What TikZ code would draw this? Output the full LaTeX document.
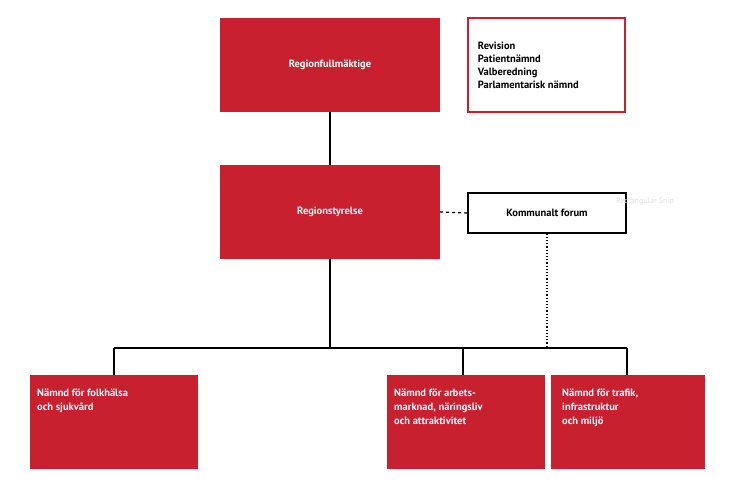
\documentclass[tikz,border=0pt]{standalone}
\usepackage{fontspec}
\setmainfont{PT Sans}
\definecolor{regred}{HTML}{C8202F}

\begin{document}
\begin{tikzpicture}[x=1pt,y=-1pt,
    redbox/.style={fill=regred,text=white,font=\bfseries\fontsize{10.5}{13}\selectfont,inner sep=0pt},
    linebox/.style={draw,line width=1.2pt,inner sep=0pt,font=\bfseries\fontsize{10.5}{13}\selectfont},
    nbox/.style={fill=regred,anchor=north west,inner sep=0pt},
    ntext/.style={text=white,font=\bfseries\fontsize{10.5}{14}\selectfont,
        align=left,anchor=north west,inner sep=0pt}]
            \useasboundingbox (0,0) rectangle (738,489);
            \node (rf) at (330,65) [redbox,minimum width=220pt,minimum height=94pt] {Regionfullmäktige};
            \node (rev) at (546.5,65) [linebox,draw=regred,minimum width=157pt,minimum height=94pt] {};
            \node at (rev.west) [anchor=west,xshift=7pt,align=left,font=\bfseries\fontsize{10.5}{13}\selectfont] {Revision\\Patientnämnd\\Valberedning\\Parlamentarisk nämnd};
            \node (rs) at (330,212) [redbox,minimum width=220pt,minimum height=94pt] {Regionstyrelse};
            \node (kf) at (547,213) [linebox,minimum width=158pt,minimum height=40pt] {Kommunalt forum};
            \node (snip) at (645,201) [text=black!12,font=\fontsize{8}{9}\selectfont] {Rectangular Snip};
            \node (nfs) at (30,375) [nbox,minimum width=168pt,minimum height=94pt] {};
            \node at (37,389) [ntext] {Nämnd för folkhälsa\\och sjukvård};
            \node (nam) at (387,375) [nbox,minimum width=158pt,minimum height=94pt] {};
            \node at (394,389) [ntext] {Nämnd för arbets-\\marknad, näringsliv\\och attraktivitet};
            \node (ntm) at (551,375) [nbox,minimum width=154pt,minimum height=94pt] {};
            \node at (562,389) [ntext] {Nämnd för trafik,\\infrastruktur\\och miljö};
            \coordinate (bus) at (330,348);
            \coordinate (busl) at (114,348);
            \coordinate (busm) at (463,348);
            \coordinate (busr) at (627,348);
            \coordinate (busk) at (547,348);

            \draw[line width=1.2pt] (rf) -- (rs) (rs) -- (bus) (busl) -- (busr) (busl) -- (114,375) (busm) -- (463,375) (busr) -- (627,375);
            \draw[line width=1.2pt,dashed] (rs.east) -- (kf.west);
            \draw[line width=1.2pt,dotted] (kf.south) -- (busk);
        \end{tikzpicture}
\end{document}
